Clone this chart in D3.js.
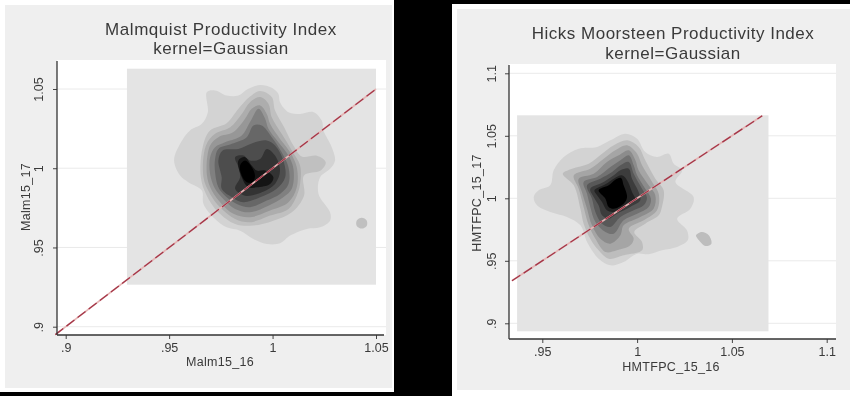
<!DOCTYPE html>
<html><head><meta charset="utf-8">
<style>html,body{margin:0;padding:0;background:#000;overflow:hidden}svg{display:block}text{font-family:"Liberation Sans",Arial,sans-serif}</style>
<script src="https://cdn.jsdelivr.net/npm/d3@7"></script></head><body>
<svg id="c" width="850" height="396"></svg>
<script>
const titlesLeft = ["Malmquist Productivity Index","kernel=Gaussian"];
const titlesRight = ["Hicks Moorsteen Productivity Index","kernel=Gaussian"];
const labelsLeft = {x:"Malm15_16", y:"Malm15_17"};
const labelsRight = {x:"HMTFPC_15_16", y:"HMTFPC_15_17"};
const xTicksLeft = [.9,.95,1,1.05], yTicksLeft = [.9,.95,1,1.05];
const xTicksRight = [.95,1,1.05,1.1], yTicksRight = [.9,.95,1,1.05,1.1];
const levelColors = ["#d3d3d3","#c0c0c0","#adadad","#979797","#808080","#676767","#4d4d4d","#333333","#151515","#000000"];
const levelColorsR = ["#d3d3d3","#bdbdbd","#a5a5a5","#8c8c8c","#727272","#585858","#3c3c3c","#222222","#000000"];
const densityBoxLeft = {x:[.9296,1.05], y:[.9265,1.0628]};
const densityBoxRight = {x:[.9367,1.0693], y:[.8936,1.0664]};
const diagonalLeft = [.895,1.05], diagonalRight = [.934,1.066];

const contoursLeft = [
[[.9682,1.0480],[.9722,1.0491],[.9778,1.0459],[.9835,1.0459],[.9883,1.0501],[.9940,1.0525],[.9996,1.0508],[1.0028,1.0470],[1.0036,1.0417],[1.0077,1.0354],[1.0133,1.0343],[1.0198,1.0354],[1.0238,1.0301],[1.0246,1.0238],[1.0286,1.0133],[1.0302,1.0049],[1.0278,.9996],[1.0230,.9943],[1.0222,.9838],[1.0278,.9722],[1.0278,.9669],[1.0230,.9627],[1.0165,.9617],[1.0085,.9575],[1.0036,.9526],[.9972,.9522],[.9907,.9554],[.9843,.9606],[.9778,.9627],[.9722,.9680],[.9666,.9775],[.9658,.9859],[.9593,.9912],[.9553,.9954],[.9524,1.0049],[.9553,1.0154],[.9601,1.0238],[.9658,1.0280],[.9687,1.0354]],
[[.9662,1.0133],[.9698,1.0238],[.9778,1.0284],[.9835,1.0375],[.9888,1.0449],[.9940,1.0487],[.9996,1.0449],[1.0012,1.0364],[1.0056,1.0259],[1.0101,1.0143],[1.0141,1.0074],[1.0214,1.0078],[1.0257,1.0038],[1.0233,.9985],[1.0152,.9954],[1.0152,.9827],[1.0093,.9722],[1.0004,.9669],[.9907,.9638],[.9819,.9648],[.9738,.9722],[.9682,.9827],[.9653,.9943]],
[[.9678,1.0143],[.9722,1.0217],[.9795,1.0259],[.9851,1.0343],[.9891,1.0417],[.9940,1.0449],[.9980,1.0407],[.9996,1.0322],[1.0044,1.0217],[1.0093,1.0112],[1.0133,1.0017],[1.0133,.9901],[1.0117,.9827],[1.0077,.9743],[.9988,.9701],[.9891,.9659],[.9819,.9680],[.9746,.9754],[.9698,.9838],[.9666,.9943]],
[[.9698,1.0143],[.9738,1.0196],[.9811,1.0228],[.9867,1.0312],[.9899,1.0375],[.9940,1.0396],[.9972,1.0343],[.9988,1.0280],[1.0036,1.0185],[1.0085,1.0101],[1.0117,1.0006],[1.0117,.9880],[1.0077,.9785],[.9988,.9733],[.9891,.9691],[.9811,.9712],[.9754,.9775],[.9706,.9859],[.9682,.9964]],
[[.9722,1.0133],[.9770,1.0164],[.9851,1.0207],[.9891,1.0291],[.9932,1.0375],[.9964,1.0312],[.9980,1.0249],[1.0028,1.0164],[1.0077,1.0080],[1.0101,.9996],[1.0093,.9870],[1.0052,.9817],[.9980,.9764],[.9891,.9722],[.9819,.9743],[.9762,.9806],[.9722,.9870],[.9698,.9964],[.9698,1.0070]],
[[.9738,1.0122],[.9803,1.0154],[.9875,1.0196],[.9907,1.0270],[.9948,1.0270],[.9996,1.0196],[1.0044,1.0101],[1.0077,1.0006],[1.0077,.9901],[1.0036,.9838],[.9972,.9796],[.9891,.9754],[.9827,.9775],[.9770,.9827],[.9738,.9880],[.9722,.9975],[.9722,1.0059]],
[[.9759,1.0112],[.9835,1.0122],[.9915,1.0164],[.9972,1.0175],[1.0012,1.0143],[1.0052,1.0049],[1.0061,.9943],[1.0020,.9870],[.9940,.9817],[.9859,.9785],[.9803,.9817],[.9754,.9870],[.9754,.9943],[.9738,1.0049]],
[[.9819,1.0070],[.9859,1.0080],[.9891,1.0049],[.9940,1.0059],[.9972,1.0122],[1.0012,1.0080],[1.0036,.9985],[1.0012,.9901],[.9948,.9848],[.9867,.9827],[.9819,.9870],[.9843,.9943],[.9835,1.0006]],
[[.9835,1.0049],[.9867,1.0070],[.9899,1.0017],[.9924,.9985],[.9964,.9985],[1.0004,.9943],[.9988,.9901],[.9924,.9880],[.9883,.9880],[.9851,.9943]],
[[.9843,1.0017],[.9867,1.0049],[.9894,1.0017],[.9915,.9954],[.9904,.9912],[.9875,.9912],[.9851,.9954]]
];
const islandLeft = [[1.0431,.9687],[1.0455,.9670],[1.0455,.9636],[1.0431,.9619],[1.0407,.9636],[1.0407,.9670]];

const contoursRight = [
[[.9455,1.0011],[.9481,1.0064],[.9542,1.0104],[.9560,1.0224],[.9613,1.0331],[.9692,1.0397],[.9789,1.0411],[.9859,1.0464],[.9938,1.0517],[1.0000,1.0477],[1.0043,1.0371],[1.0105,1.0331],[1.0167,1.0357],[1.0193,1.0277],[1.0237,1.0224],[1.0202,1.0131],[1.0298,1.0011],[1.0281,.9917],[1.0211,.9837],[1.0263,.9744],[1.0267,.9664],[1.0211,.9611],[1.0131,.9584],[1.0061,.9552],[1.0000,.9557],[.9929,.9491],[.9859,.9464],[.9797,.9517],[.9736,.9651],[.9701,.9784],[.9630,.9851],[.9542,.9891],[.9472,.9944]],
[[.9608,1.0197],[.9657,1.0237],[.9745,1.0277],[.9815,1.0357],[.9877,1.0424],[.9947,1.0464],[1.0008,1.0411],[1.0043,1.0304],[1.0096,1.0157],[1.0140,1.0064],[1.0131,.9931],[1.0114,.9864],[1.0043,.9797],[.9985,.9731],[1.0026,.9651],[1.0026,.9584],[.9929,.9544],[.9850,.9517],[.9797,.9584],[.9753,.9677],[.9718,.9797],[.9701,.9917],[.9666,1.0104]],
[[.9666,1.0184],[.9753,1.0237],[.9824,1.0317],[.9885,1.0384],[.9947,1.0424],[1.0000,1.0357],[1.0026,1.0264],[1.0079,1.0131],[1.0114,1.0037],[1.0105,.9904],[1.0035,.9824],[.9956,.9757],[.9982,.9677],[.9964,.9624],[.9894,.9584],[.9833,.9571],[.9780,.9677],[.9745,.9784],[.9718,.9931],[.9692,1.0077]],
[[.9692,1.0157],[.9771,1.0197],[.9841,1.0291],[.9903,1.0344],[.9956,1.0384],[.9991,1.0304],[1.0008,1.0224],[1.0061,1.0104],[1.0096,1.0024],[1.0087,.9917],[1.0017,.9851],[.9929,.9784],[.9912,.9704],[.9859,.9637],[.9806,.9677],[.9762,.9784],[.9736,.9917],[.9709,1.0051]],
[[.9718,1.0131],[.9789,1.0171],[.9859,1.0251],[.9912,1.0304],[.9956,1.0344],[.9982,1.0264],[1.0000,1.0184],[1.0043,1.0077],[1.0073,.9997],[1.0061,.9931],[1.0000,.9877],[.9929,.9824],[.9877,.9717],[.9833,.9731],[.9780,.9811],[.9753,.9931],[.9736,1.0037]],
[[.9736,1.0104],[.9806,1.0157],[.9868,1.0211],[.9912,1.0264],[.9956,1.0291],[.9982,1.0197],[1.0026,1.0077],[1.0052,1.0005],[1.0035,.9944],[.9982,.9904],[.9912,.9851],[.9859,.9771],[.9815,.9797],[.9780,.9891],[.9762,.9997]],
[[.9753,1.0077],[.9824,1.0131],[.9877,1.0184],[.9912,1.0224],[.9956,1.0237],[.9973,1.0157],[1.0008,1.0051],[1.0017,.9984],[.9964,.9931],[.9894,.9877],[.9850,.9837],[.9815,.9864],[.9797,.9944],[.9771,1.0011]],
[[.9775,1.0064],[.9833,1.0112],[.9877,1.0157],[.9920,1.0184],[.9947,1.0144],[.9973,1.0051],[.9991,.9984],[.9938,.9944],[.9877,.9891],[.9841,.9904],[.9815,.9971],[.9789,1.0024]],
[[.9797,1.0064],[.9850,1.0104],[.9885,1.0149],[.9915,1.0163],[.9929,1.0104],[.9947,1.0011],[.9929,.9957],[.9877,.9917],[.9850,.9931],[.9833,.9997]]
];
const islandRight = [[1.0311,.9704],[1.0342,.9731],[1.0378,.9704],[1.0392,.9637],[1.0360,.9619],[1.0334,.9651]];

const svg = d3.select("#c");
svg.append("rect").attr("width",850).attr("height",396).attr("fill","#000");

function box(g,r,fill){ g.append("rect").attr("x",r[0]).attr("y",r[1]).attr("width",r[2]-r[0]).attr("height",r[3]-r[1]).attr("fill",fill); }
function fmt(d){ return d===1?"1":String(d).replace(/^0/,""); }

function panel(o){
  const g = svg.append("g").style("filter","blur(0.4px)");
  box(g,o.frame,"#fff");
  box(g,o.outer,"#efefef");
  box(g,o.plot,"#fff");
  const x = d3.scaleLinear().domain(o.xd).range(o.xr);
  const y = d3.scaleLinear().domain(o.yd).range(o.yr);
  g.selectAll(".grid").data(o.yTicks).join("line").attr("x1",o.plot[0]).attr("x2",o.plot[2])
    .attr("y1",y).attr("y2",y).attr("stroke","#eaeaea").attr("stroke-width",1);
  g.append("rect").attr("x",x(o.box.x[0])).attr("y",y(o.box.y[1])).attr("width",x(o.box.x[1])-x(o.box.x[0])).attr("height",y(o.box.y[0])-y(o.box.y[1])).attr("fill","#e4e4e4");
  const line = d3.line().x(d=>x(d[0])).y(d=>y(d[1]));
  const closed = d3.line().x(d=>x(d[0])).y(d=>y(d[1])).curve(d3.curveCatmullRomClosed.alpha(0.5));
  g.append("path").attr("d",closed(o.island)).attr("fill",o.colors[1]);
  g.selectAll(".lvl").data(o.contours).join("path").attr("d",closed).attr("fill",(d,i)=>o.colors[i]);
  const diag = o.diag.map(v=>[v,v]);
  g.append("path").attr("d",line(diag)).attr("fill","none").attr("stroke","#e6b4b4").attr("stroke-width",1.7);
  g.append("path").attr("d",line(diag)).attr("fill","none").attr("stroke","#a33648").attr("stroke-width",1.3).attr("stroke-dasharray","10 4");
  const ax = d3.axisBottom(x).tickValues(o.xTicks).tickSize(4).tickFormat(fmt);
  const ay = d3.axisLeft(y).tickValues(o.yTicks).tickSize(4).tickFormat(fmt);
  const gx = g.append("g").attr("transform",`translate(0,${o.plot[3]})`).call(ax);
  gx.select(".domain").remove();
  gx.selectAll("line").attr("stroke","#444");
  gx.selectAll("text").attr("fill","#3a3a3a").attr("font-size",12.5).attr("font-family","Liberation Sans").attr("y",null).attr("dy",null)
    .attr("transform",`translate(0,${o.xTickY})`).attr("dominant-baseline","middle");
  const gy = g.append("g").attr("transform",`translate(${o.plot[0]},0)`).call(ay);
  gy.select(".domain").remove();
  gy.selectAll("line").attr("stroke","#444");
  gy.selectAll("text").attr("fill","#3a3a3a").attr("font-size",12.5).attr("font-family","Liberation Sans").attr("x",null).attr("dy",null)
    .attr("text-anchor","middle").attr("dominant-baseline","middle").attr("transform",`translate(${o.yTickX},0) rotate(-90)`);
  g.append("line").attr("x1",o.plot[0]).attr("x2",o.plot[0]).attr("y1",o.plot[1]+1).attr("y2",o.plot[3]).attr("stroke","#333").attr("stroke-width",1.3);
  g.append("line").attr("x1",o.plot[0]).attr("x2",o.axisEnd).attr("y1",o.plot[3]).attr("y2",o.plot[3]).attr("stroke","#333").attr("stroke-width",1.3);
  o.titles.forEach((t,i)=>g.append("text").text(t).attr("x",o.titleX).attr("y",o.titleY[i]).attr("text-anchor","middle").attr("font-size",17).attr("letter-spacing",o.titleSpacing[i]).attr("fill","#3a3a3a"));
  g.append("text").text(o.labels.x).attr("x",o.xLab[0]).attr("y",o.xLab[1]).attr("text-anchor","middle").attr("dominant-baseline","middle").attr("font-size",o.labSize).attr("letter-spacing",.3).attr("fill","#3a3a3a");
  g.append("text").text(o.labels.y).attr("text-anchor","middle").attr("dominant-baseline","middle").attr("font-size",o.labSize).attr("letter-spacing",.3).attr("fill","#3a3a3a")
    .attr("transform",`translate(${o.yLab[0]},${o.yLab[1]}) rotate(-90)`);
}

panel({frame:[0,0,394,392],outer:[5,5,392,388],plot:[57,60,386,335],axisEnd:384,
  xd:[.9,1.05],xr:[65.7,376],yd:[.9,1.05],yr:[326.7,89],
  xTicks:xTicksLeft,yTicks:yTicksLeft,box:densityBoxLeft,contours:contoursLeft,island:islandLeft,colors:levelColors,diag:diagonalLeft,
  titles:titlesLeft,titleX:221,titleY:[35,54],titleSpacing:[.55,.5],labels:labelsLeft,xLab:[220,363],yLab:[27,197],labSize:12.5,xTickY:14,yTickX:-17});
panel({frame:[452,4,850,396],outer:[457,9,850,390],plot:[509,64,836,339],axisEnd:836,
  xd:[.95,1.1],xr:[542.3,826.7],yd:[.9,1.1],yr:[323.3,73.3],
  xTicks:xTicksRight,yTicks:yTicksRight,box:densityBoxRight,contours:contoursRight,island:islandRight,colors:levelColorsR,diag:diagonalRight,
  titles:titlesRight,titleX:673,titleY:[39,59],titleSpacing:[.5,.5],labels:labelsRight,xLab:[671,368],yLab:[478,203],labSize:12.5,xTickY:14,yTickX:-16});
</script></body></html>
